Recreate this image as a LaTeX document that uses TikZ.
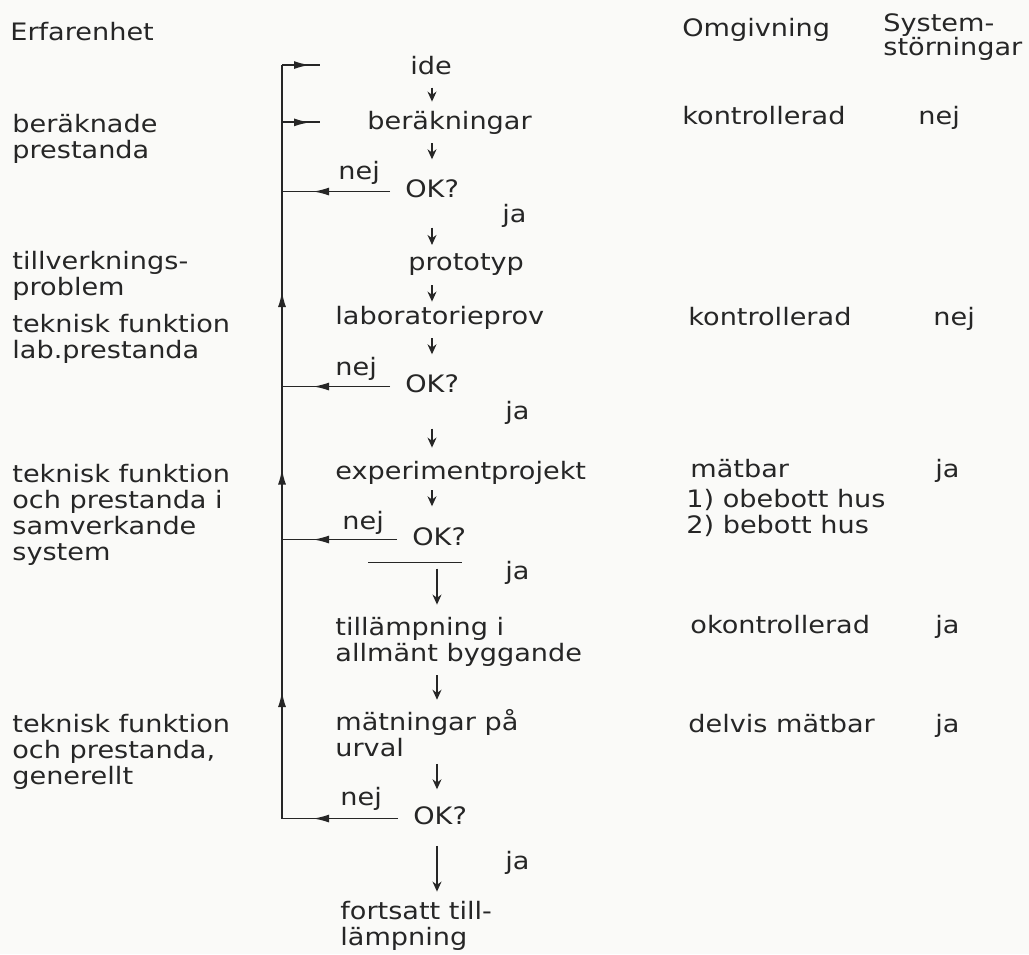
\documentclass[tikz,border=0pt]{standalone}
\usepackage{fontspec}
\setmainfont{DejaVu Sans}[FakeStretch=1.13]
\usetikzlibrary{arrows.meta,decorations.markings}
\definecolor{inkcolor}{HTML}{262626}
\definecolor{papercolor}{HTML}{FAFAF8}

\begin{document}
\begin{tikzpicture}[
  x=0.5pt, y=-0.5pt,
  font=\fontsize{12}{13}\selectfont,
  every node/.style={inner sep=0pt, text=inkcolor, align=left},
  lbl/.style={anchor=base west},
  flow/.style={-{Stealth[length=5pt,width=4.5pt]}, line width=0.6pt, draw=inkcolor},
  spine/.style={line width=0.9pt, draw=inkcolor},
  tipat/.style={postaction={decorate},
    decoration={markings, mark=at position #1 with {\arrow{Latex[length=8pt,width=4pt]}}}},
]

\fill[papercolor] (0,0) rectangle (1029,954);
\useasboundingbox (0,0) rectangle (1029,954);

% --- left column: Erfarenhet ----------------------------------------
\node[lbl] (erf)   at (10,40)  {Erfarenhet};
\node[lbl] (eber)  at (12,158) {beräknade\\prestanda};
\node[lbl] (etill) at (12,295) {tillverknings-\\problem};
\node[lbl] (elab)  at (12,358) {teknisk funktion\\lab.prestanda};
\node[lbl] (esam)  at (12,560) {teknisk funktion\\och prestanda i\\samverkande\\system};
\node[lbl] (egen)  at (12,784) {teknisk funktion\\och prestanda,\\generellt};

% --- middle column: the steps ---------------------------------------
\node[anchor=base] (ide) at (431,74) {ide};
\node[lbl] (ber)   at (367,129) {beräkningar};
\node[lbl] (ok1)   at (405,197) {OK?};
\node[lbl] (nej1)  at (338,179) {nej};
\node[lbl] (ja1)   at (502,222) {ja};
\node[lbl] (proto) at (408,270) {prototyp};
\node[lbl] (lab)   at (335,324) {laboratorieprov};
\node[lbl] (ok2)   at (405,392) {OK?};
\node[lbl] (nej2)  at (335,375) {nej};
\node[lbl] (ja2)   at (505,419) {ja};
\node[lbl] (exp)   at (335,479) {experimentprojekt};
\node[lbl] (ok3)   at (412,545) {OK?};
\node[lbl] (nej3)  at (342,529) {nej};
\node[lbl] (ja3)   at (505,579) {ja};
\node[lbl] (appl)  at (335,661) {tillämpning i\\allmänt byggande};
\node[lbl] (meas)  at (335,756) {mätningar på\\urval};
\node[lbl] (ok4)   at (413,824) {OK?};
\node[lbl] (nej4)  at (340,805) {nej};
\node[lbl] (ja4)   at (505,869) {ja};
\node[lbl] (cont)  at (340,945) {fortsatt till-\\lämpning};

% --- right columns: Omgivning / Systemstörningar ---------------------
\node[lbl] (omg)  at (682,36)  {Omgivning};
\node[lbl] (sys)  at (883,55)  {System-\\[-1pt]störningar};
\node[lbl] (omg1) at (682,124) {kontrollerad};
\node[lbl] (sys1) at (918,124) {nej};
\node[lbl] (omg2) at (688,325) {kontrollerad};
\node[lbl] (sys2) at (933,325) {nej};
\node[lbl] (omg3) at (690,477) {mätbar};
\node[lbl] (hus)  at (686,533) {1) obebott hus\\2) bebott hus};
\node[lbl] (sys3) at (935,477) {ja};
\node[lbl] (omg4) at (690,633) {okontrollerad};
\node[lbl] (sys4) at (935,633) {ja};
\node[lbl] (omg5) at (688,732) {delvis mätbar};
\node[lbl] (sys5) at (935,732) {ja};

% --- downward flow --------------------------------------------------
\coordinate (ax) at (432,0);
\coordinate (bx) at (437,0);
\draw[flow, shorten <=6.5pt, shorten >=4.4pt]  (ide.south -| ax)  -- (ber.north -| ax);
\draw[flow, shorten <=4.5pt, shorten >=9.75pt] (ber.south -| ax)  -- (ok1.north -| ax);
\draw[flow, shorten <=15pt, shorten >=3.9pt]   (ok1.south -| ax)  -- (proto.north -| ax);
\draw[flow, shorten <=5pt, shorten >=1.9pt]    (proto.south -| ax) -- (lab.north -| ax);
\draw[flow, shorten <=4.5pt, shorten >=9.75pt] (lab.south -| ax)  -- (ok2.north -| ax);
\draw[flow, shorten <=18pt, shorten >=6.4pt]   (ok2.south -| ax)  -- (exp.north -| ax);
\draw[flow, shorten <=3pt, shorten >=10.25pt]  (exp.south -| ax)  -- (ok3.north -| ax);
\draw[flow, shorten <=11.5pt, shorten >=5.9pt] (ok3.south -| bx)  -- (appl.north -| bx);
\draw[flow, shorten <=4.5pt, shorten >=4.4pt]  (appl.south -| bx) -- (meas.north -| bx);
\draw[flow, shorten <=3.5pt, shorten >=8.25pt] (meas.south -| bx) -- (ok4.north -| bx);
\draw[flow, shorten <=10.5pt, shorten >=4.4pt] (ok4.south -| bx)  -- (cont.north -| bx);

\draw[line width=0.6pt, draw=inkcolor]
  ([shift={(-44,17)}]ok3.south west) -- ([shift={(-4,17)}]ok3.south east);

% --- feedback spine -------------------------------------------------
\coordinate (sp)  at (282,0);
\coordinate (top) at (ide.west -| sp);
\coordinate (bot) at (ok4.mid west -| sp);

\draw[spine, postaction={decorate}, decoration={markings,
    mark=at position 63.75pt with {\arrow{Latex[length=8pt,width=4pt]}},
    mark=at position 175pt with {\arrow{Latex[length=8pt,width=4pt]}},
    mark=at position 263.75pt with {\arrow{Latex[length=8pt,width=4pt]}}}]
  (bot) -- (top);

\draw[spine, shorten >=45pt, tipat=14pt]   (top) -- (ide.west);
\draw[spine, shorten >=23.5pt, tipat=14pt] (ber.west -| sp) -- (ber.west);

\foreach \k in {ok1,ok2,ok3,ok4}
  \draw[spine, shorten <=7.5pt, tipat=-15.5pt] (\k.mid west) -- (\k.mid west -| sp);

\end{tikzpicture}
\end{document}
